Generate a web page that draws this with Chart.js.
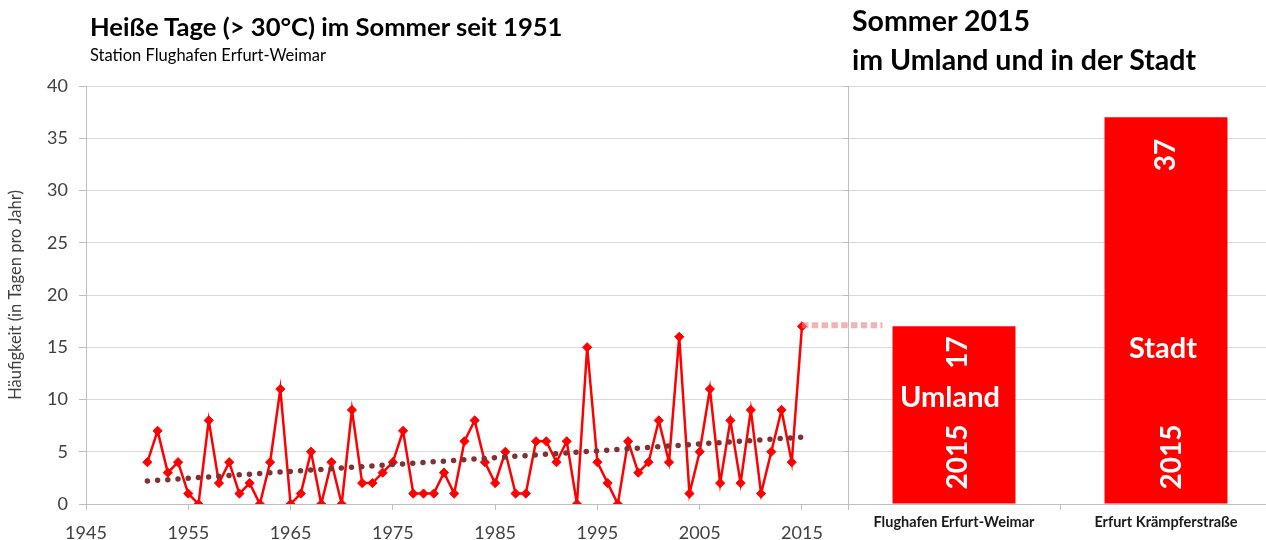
<!DOCTYPE html>
<html><head><meta charset="utf-8">
<script src="https://cdn.jsdelivr.net/npm/chart.js@4.4.0/dist/chart.umd.min.js"></script>
<style>
html,body{margin:0;padding:0;background:#fff;overflow:hidden;width:1266px;height:540px;}
#wrap{position:relative;width:1266px;height:540px;overflow:hidden;background:#fff;}
canvas{position:absolute;left:0;top:0;}
.t{position:absolute;font-family:Lato,sans-serif;color:#000;white-space:nowrap;line-height:1.2;}
</style></head><body>
<div id="wrap">
<canvas id="c1" width="1280" height="540" style="width:1280px;height:540px"></canvas>
<canvas id="c2" width="1280" height="540" style="width:1280px;height:540px"></canvas>
<div class="t" style="left:90px;top:11px;font-size:25.6px;font-weight:bold">Heiße Tage (&gt; 30°C) im Sommer seit 1951</div>
<div class="t" style="left:90px;top:46px;font-size:16.5px;">Station Flughafen Erfurt-Weimar</div>
<div class="t" style="left:852px;top:3px;font-size:28.5px;font-weight:bold">Sommer 2015</div>
<div class="t" style="left:852px;top:42px;font-size:28.5px;font-weight:bold">im Umland und in der Stadt</div>
</div>
<script>
// ---- data ----
const years = [1951,1952,1953,1954,1955,1956,1957,1958,1959,1960,
  1961,1962,1963,1964,1965,1966,1967,1968,1969,1970,
  1971,1972,1973,1974,1975,1976,1977,1978,1979,1980,
  1981,1982,1983,1984,1985,1986,1987,1988,1989,1990,
  1991,1992,1993,1994,1995,1996,1997,1998,1999,2000,
  2001,2002,2003,2004,2005,2006,2007,2008,2009,2010,
  2011,2012,2013,2014,2015];
const hotDays = [4,7,3,4,1,0,8,2,4,1,
  2,0,4,11,0,1,5,0,4,0,
  9,2,2,3,4,7,1,1,1,3,
  1,6,8,4,2,5,1,1,6,6,
  4,6,0,15,4,2,0,6,3,4,
  8,4,16,1,5,11,2,8,2,9,
  1,5,9,4,17];
const trendYears = [1951, 2015];
const trendValues = [2.2, 6.4];
const xTickValues = [1945,1955,1965,1975,1985,1995,2005,2015];
const yTickMax = 40;
const stations = ['Flughafen Erfurt-Weimar','Erfurt Krämpferstraße'];
const areaNames = ['Umland','Stadt'];
const days2015 = [17, 37];
const barYear = '2015';

const FONT = 'Lato';
const AXIS_TEXT = '#404040';
const GRID = '#d9d9d9';
const AXIS_LINE = '#bfbfbf';

const leftChart = new Chart(document.getElementById('c1'), {
  type: 'line',
  data: { datasets: [
    { data: trendYears.map((y,i)=>({x:y, y:trendValues[i]})),
      borderColor:'#7e3232', borderWidth:5.5, borderDash:[0,10.23], borderCapStyle:'round',
      pointRadius:0, fill:false, order:0 },
    { data: years.map((y,i)=>({x:y, y:hotDays[i]})),
      borderColor:'#ff0000', backgroundColor:'#ff0000', borderWidth:2.5,
      pointStyle:'rectRot', pointRadius:4.6, pointBorderWidth:1, pointBackgroundColor:'#ff0000',
      tension:0, fill:false, order:1 }
  ]},
  options: {
    responsive:false, animation:false,
    plugins:{ legend:{display:false}, tooltip:{enabled:false}, title:{display:false} },
    layout:{ padding:{ top:86, right:1280-848, left:0, bottom:0 } },
    scales:{
      x:{ type:'linear', min:1945, max:2019.5,
        afterBuildTicks:s=>{ s.ticks = xTickValues.map(v=>({value:v})); },
        afterFit:s=>{ s.height = 36; },
        grid:{ drawOnChartArea:false, tickLength:6, tickColor:AXIS_LINE },
        border:{ color:AXIS_LINE },
        ticks:{ font:{family:FONT,size:18}, color:AXIS_TEXT, padding:12, maxRotation:0, autoSkip:false,
          callback:v=>String(v) } },
      y:{ min:0, max:yTickMax,
        afterFit:s=>{ s.width = 86; },
        ticks:{ stepSize:5, font:{family:FONT,size:18}, color:AXIS_TEXT, padding:11 },
        grid:{ color:GRID, tickLength:7, tickColor:AXIS_LINE },
        border:{ color:AXIS_LINE },
        title:{ display:true, text:'Häufigkeit (in Tagen pro Jahr)', font:{family:FONT,size:16.5}, color:AXIS_TEXT, padding:{top:6,bottom:0} } }
    }
  }
});

const connector = {
  id:'connector',
  beforeDatasetsDraw(chart){
    const ctx = chart.ctx;
    const bar = chart.getDatasetMeta(0).data[0];
    const x0 = leftChart.scales.x.getPixelForValue(years[years.length-1]);
    const y = chart.scales.y.getPixelForValue(days2015[0]) - 1;
    const x1 = bar.x - bar.width/2 - 10;
    ctx.save();
    ctx.strokeStyle = 'rgba(232,130,130,0.6)';
    ctx.lineWidth = 6;
    ctx.setLineDash([6.5,3.3]);
    ctx.beginPath(); ctx.moveTo(x0, y); ctx.lineTo(x1, y); ctx.stroke();
    ctx.restore();
  }
};

const labelSpec = [
  { dx:4, numY:14.5, nameDx:-4, nameY:10.2, yearY:4.5 },
  { dx:0, numY:33.4, nameDx:-3, nameY:14.9, yearY:4.5 }
];
const barLabels = {
  id:'barLabels',
  afterDatasetsDraw(chart){
    const ctx = chart.ctx, ys = chart.scales.y;
    const meta = chart.getDatasetMeta(0);
    ctx.save();
    ctx.fillStyle = '#ffffff';
    ctx.textAlign = 'center'; ctx.textBaseline = 'middle';
    const rot = (txt, x, y) => {
      ctx.save(); ctx.translate(x, y); ctx.rotate(-Math.PI/2);
      ctx.fillText(txt, 0, 0); ctx.restore();
    };
    meta.data.forEach((bar, i) => {
      const s = labelSpec[i];
      ctx.font = 'bold 28px ' + FONT;
      rot(String(days2015[i]), bar.x + s.dx, ys.getPixelForValue(s.numY));
      rot(barYear, bar.x + s.dx + (i===1?6:0), ys.getPixelForValue(s.yearY));
      ctx.font = 'bold 29px ' + FONT;
      ctx.fillText(areaNames[i], bar.x + s.nameDx, ys.getPixelForValue(s.nameY));
    });
    ctx.restore();
  }
};

new Chart(document.getElementById('c2'), {
  type:'bar',
  data:{ labels: stations, datasets:[{ data: days2015, backgroundColor:'#ff0000', borderWidth:0,
    barPercentage:0.58, categoryPercentage:1 }] },
  options:{
    responsive:false, animation:false,
    plugins:{ legend:{display:false}, tooltip:{enabled:false} },
    layout:{ padding:{ top:86, right:8, left:0, bottom:0 } },
    scales:{
      x:{ afterFit:s=>{ s.height = 36; },
        grid:{ drawOnChartArea:false, tickLength:6, tickColor:AXIS_LINE, offset:true },
        border:{ color:AXIS_LINE },
        ticks:{ font:{family:FONT,size:14.5,weight:'bold'}, color:'#1a1a1a', padding:4, maxRotation:0 } },
      y:{ min:0, max:yTickMax,
        afterFit:s=>{ s.width = 848; },
        ticks:{ stepSize:5, display:false },
        grid:{ color:GRID, tickLength:5, tickColor:AXIS_LINE },
        border:{ color:AXIS_LINE } }
    }
  },
  plugins:[connector, barLabels]
});
</script>
</body></html>
